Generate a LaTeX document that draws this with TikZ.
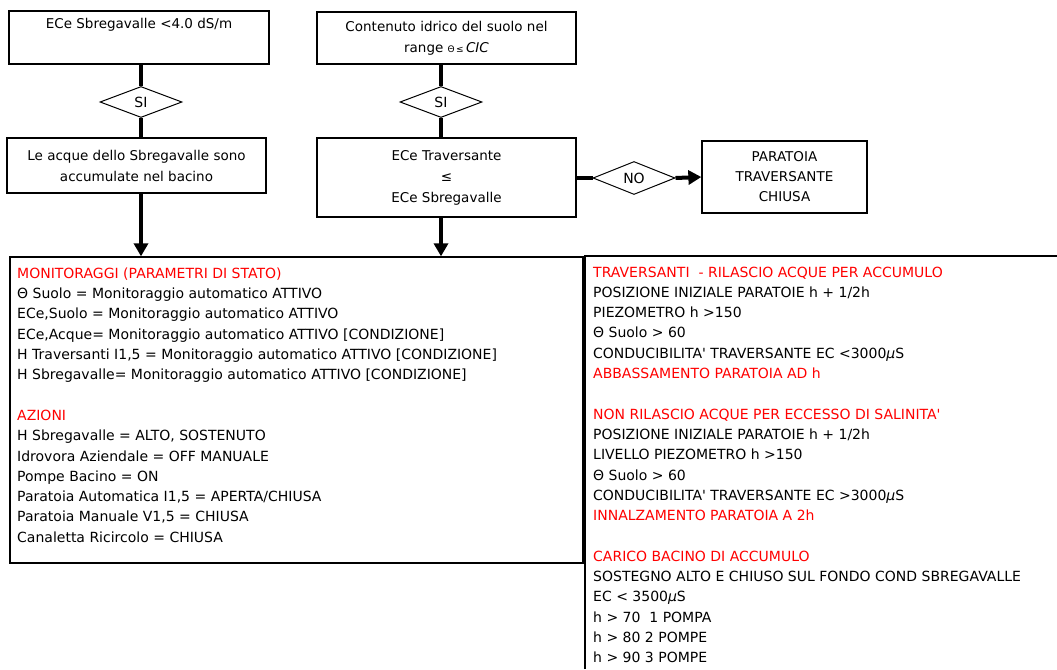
\documentclass[tikz,border=0pt]{standalone}
\usepackage{fontspec}
\setmainfont{DejaVu Sans}
\usetikzlibrary{arrows.meta,shapes.geometric}

\begin{document}
\begin{tikzpicture}[x=1pt,y=-1pt,
  box/.style={draw, line width=1.3pt, align=center, inner sep=0pt, font=\fontsize{13.5}{21}\selectfont},
  choice/.style={draw, diamond, line width=1pt, inner sep=0pt, minimum width=82pt, minimum height=31pt, font=\fontsize{14}{16}\selectfont},
  flow/.style={line width=4pt},
  flowarrow/.style={line width=4pt, -{Triangle[width=14pt,length=13pt]}},
  listing/.style={anchor=north west, align=left, inner sep=0pt, font=\fontsize{14}{20.3}\selectfont}]
\useasboundingbox (0,0) rectangle (1057,669);
\node[box, minimum width=260pt, minimum height=53pt] (sbreg) at (139,37.5) {ECe Sbregavalle <4.0 dS/m\\ \strut};
\node[choice] (si1) at (141,102) {SI};
\node[box, minimum width=259pt, minimum height=55pt] (accum) at (136.5,165.5) {Le acque dello Sbregavalle sono\\accumulate nel bacino};
\node[box, minimum width=259pt, minimum height=52pt] (umid) at (446.5,38) {Contenuto idrico del suolo nel\\range {\small Θ\,≤}\,\textit{CIC}};
\node[choice] (si2) at (441,102) {SI};
\node[box, minimum width=259pt, minimum height=79pt] (confr) at (446.5,177.5) {ECe Traversante\\≤\\ECe Sbregavalle};
\node[choice, minimum height=33pt] (no) at (634,178) {NO};
\node[box, minimum width=165pt, minimum height=72pt, font=\fontsize{13.5}{20}\selectfont] (chiusa) at (784.5,177) {PARATOIA\\TRAVERSANTE\\CHIUSA};
\node[draw, line width=1.3pt, minimum width=573pt, minimum height=306pt, inner sep=0pt] (azioni) at (296.5,410) {};
\coordinate (soglie) at (585,256);
\draw[line width=1.3pt] (soglie |- 0,669) -- (soglie) -- (1057,256);
\draw[flow] (si1.north |- sbreg.south) -- (si1.north);
\draw[flow] (si1.south) -- (si1.south |- accum.north);
\draw[flowarrow] (si1 |- accum.south) -- (si1 |- azioni.north);
\draw[flow] (si2.north |- umid.south) -- (si2.north);
\draw[flow] (si2.south) -- (si2.south |- confr.north);
\draw[flowarrow] (si2 |- confr.south) -- (si2 |- azioni.north);
\draw[flow] (confr.east |- no) -- (no.west);
\draw[flowarrow] (no.east) -- (chiusa.west);
\node[listing] (monit) at (17,267.5) {\textcolor{red}{MONITORAGGI (PARAMETRI DI STATO)}\\
Θ Suolo = Monitoraggio automatico ATTIVO\\
ECe,Suolo = Monitoraggio automatico ATTIVO\\
ECe,Acque= Monitoraggio automatico ATTIVO [CONDIZIONE]\\
H Traversanti I1,5 = Monitoraggio automatico ATTIVO [CONDIZIONE]\\
H Sbregavalle= Monitoraggio automatico ATTIVO [CONDIZIONE]\\[20.3pt]
\textcolor{red}{AZIONI}\\
H Sbregavalle = ALTO, SOSTENUTO\\
Idrovora Aziendale = OFF MANUALE\\
Pompe Bacino = ON\\
Paratoia Automatica I1,5 = APERTA/CHIUSA\\
Paratoia Manuale V1,5 = CHIUSA\\
Canaletta Ricircolo = CHIUSA};
\node[listing] (regole) at (593,266.5) {\textcolor{red}{TRAVERSANTI\ \ - RILASCIO ACQUE PER ACCUMULO}\\
POSIZIONE INIZIALE PARATOIE h + 1/2h\\
PIEZOMETRO h >150\\
Θ Suolo > 60\\
CONDUCIBILITA\textquotesingle{} TRAVERSANTE EC <3000\textit{µ}S\\
\textcolor{red}{ABBASSAMENTO PARATOIA AD h}\\[20.3pt]
\textcolor{red}{NON RILASCIO ACQUE PER ECCESSO DI SALINITA\textquotesingle}\\
POSIZIONE INIZIALE PARATOIE h + 1/2h\\
LIVELLO PIEZOMETRO h >150\\
Θ Suolo > 60\\
CONDUCIBILITA\textquotesingle{} TRAVERSANTE EC >3000\textit{µ}S\\
\textcolor{red}{INNALZAMENTO PARATOIA A 2h}\\[20.3pt]
\textcolor{red}{CARICO BACINO DI ACCUMULO}\\
SOSTEGNO ALTO E CHIUSO SUL FONDO COND SBREGAVALLE\\
EC < 3500\textit{µ}S\\
h > 70\ \ 1 POMPA\\
h > 80 2 POMPE\\
h > 90 3 POMPE};
\end{tikzpicture}
\end{document}
